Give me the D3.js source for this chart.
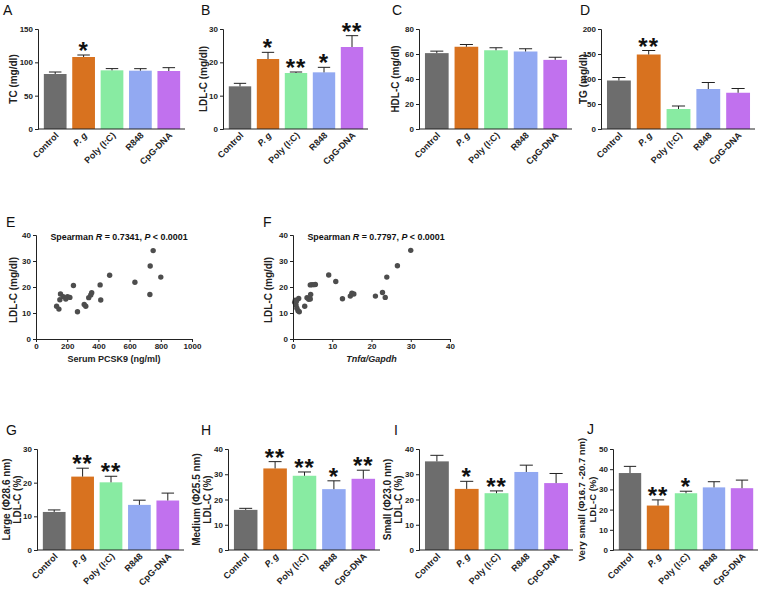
<!DOCTYPE html>
<html><head><meta charset="utf-8">
<script src="https://cdn.jsdelivr.net/npm/d3@7"></script>
<style>
html,body{margin:0;padding:0;background:#fff;}
text{font-family:"Liberation Sans",Arial,sans-serif;}
</style></head>
<body>
<svg id="chart" width="767" height="594"></svg>
<script>
// ---------------- DATA ----------------
const groups = ["Control", "P. g", "Poly (I:C)", "R848", "CpG-DNA"];
const groupColors = ["#6d6d6d", "#d8721f", "#88eba2", "#92a9f2", "#c171ee"];

const tcMean = [82.5, 108, 88, 87.5, 87];
const tcErr = [3, 3, 2.6, 3, 5];
const tcSig = ["", "*", "", "", ""];

const ldlMean = [12.8, 21, 16.8, 17, 24.6];
const ldlErr = [0.9, 2, 0.3, 1.5, 3.4];
const ldlSig = ["", "*", "**", "*", "**"];

const hdlMean = [60.7, 65.8, 63, 62, 55.3];
const hdlErr = [1.6, 1.8, 2, 2.2, 2.1];
const hdlSig = ["", "", "", "", ""];

const tgMean = [97, 149, 40, 80, 72.5];
const tgErr = [6, 8, 6, 13, 8.5];
const tgSig = ["", "**", "", "", ""];

const largeMean = [11.3, 21.8, 20.1, 13.4, 14.7];
const largeErr = [0.6, 2.5, 1.8, 1.4, 2.2];
const largeSig = ["", "**", "**", "", ""];

const mediumMean = [15.9, 32.3, 29.4, 24.1, 28.2];
const mediumErr = [0.6, 2.7, 1.5, 3.3, 3.4];
const mediumSig = ["", "**", "**", "*", "**"];

const smallMean = [35.1, 24.2, 22.5, 30.9, 26.5];
const smallErr = [2.4, 3, 0.9, 2.7, 3.8];
const smallSig = ["", "*", "**", "", ""];

const vsmallMean = [38.1, 22, 28.1, 31, 30.6];
const vsmallErr = [3.3, 2.8, 1, 2.8, 4];
const vsmallSig = ["", "**", "*", "", ""];

// scatter E: serum PCSK9 vs LDL-C
const pcsk9 = [132, 147, 153, 157, 174, 191, 202, 217, 240, 266, 309, 319, 338, 351, 357, 411, 415, 472, 634, 730, 732, 751, 800];
const ldlE = [12.6, 11.5, 15.1, 17.3, 16.3, 15.4, 16.3, 16.0, 20.6, 10.5, 13.3, 12.6, 15.9, 16.9, 17.8, 20.8, 15.0, 24.5, 21.8, 17.1, 28.1, 34.0, 23.8];

// scatter F: Tnfa/Gapdh vs LDL-C
const tnfa = [0.43, 0.6, 0.77, 1.0, 1.28, 1.45, 1.6, 0.9, 2.98, 3.57, 4.0, 4.4, 4.5, 4.4, 4.85, 5.4, 5.7, 9.1, 10.9, 12.6, 14.6, 15.0, 15.5, 21.0, 22.8, 23.5, 23.9, 26.6, 30.0];
const ldlF = [14.1, 14.9, 13.1, 11.8, 10.9, 15.6, 10.5, 14.6, 12.6, 15.9, 15.3, 15.4, 17.1, 20.8, 20.9, 20.9, 21.0, 24.6, 22.1, 15.5, 16.5, 17.6, 17.3, 16.5, 17.9, 16.0, 23.8, 28.2, 34.1];

// ---------------- DRAW ----------------
const svg = d3.select("#chart");

function letter(t, x, y) {
  svg.append("text").attr("x", x).attr("y", y).attr("font-size", 14).attr("fill", "#111").text(t);
}

function barPanel(cfg) {
  const g = svg.append("g");
  const x = d3.scaleBand().domain(groups).range([cfg.left + 3, cfg.right - 2]).paddingInner(0.2).paddingOuter(0.1);
  const y = d3.scaleLinear().domain([0, cfg.yMax]).range([cfg.bottom, cfg.top]);
  const data = groups.map((k, i) => ({k, m: cfg.mean[i], e: cfg.err[i], s: cfg.sig[i], c: groupColors[i]}));

  g.selectAll("rect.bar").data(data).join("rect")
    .attr("x", d => x(d.k)).attr("width", x.bandwidth())
    .attr("y", d => y(d.m)).attr("height", d => y(0) - y(d.m))
    .attr("fill", d => d.c);

  const cw = x.bandwidth() * 0.55;
  g.selectAll("line.eb").data(data).join("line")
    .attr("x1", d => x(d.k) + x.bandwidth() / 2).attr("x2", d => x(d.k) + x.bandwidth() / 2)
    .attr("y1", d => y(d.m)).attr("y2", d => y(d.m + d.e))
    .attr("stroke", "#222").attr("stroke-width", 1);
  g.selectAll("line.cap").data(data).join("line")
    .attr("x1", d => x(d.k) + x.bandwidth() / 2 - cw / 2).attr("x2", d => x(d.k) + x.bandwidth() / 2 + cw / 2)
    .attr("y1", d => y(d.m + d.e)).attr("y2", d => y(d.m + d.e))
    .attr("stroke", "#222").attr("stroke-width", 1);

  g.selectAll("text.sig").data(data.filter(d => d.s)).join("text")
    .attr("x", d => x(d.k) + x.bandwidth() / 2).attr("y", d => y(d.m + d.e) + 4)
    .attr("text-anchor", "middle").attr("font-size", 24).attr("font-weight", "bold")
    .attr("letter-spacing", 1).attr("fill", "#111").text(d => d.s);

  // y axis
  const ya = g.append("g").attr("transform", `translate(${cfg.left},0)`)
    .call(d3.axisLeft(y).tickValues(d3.range(0, cfg.yMax + 0.001, cfg.yStep)).tickSize(3).tickPadding(2));
  ya.select(".domain").attr("stroke", "#222");
  ya.selectAll(".tick line").attr("stroke", "#222");
  ya.selectAll(".tick text").attr("font-size", 8).attr("font-weight", "bold").attr("fill", "#222").attr("font-family", "Liberation Sans, Arial");

  // x axis line
  g.append("line").attr("x1", cfg.left).attr("x2", cfg.right).attr("y1", cfg.bottom).attr("y2", cfg.bottom)
    .attr("stroke", "#222").attr("stroke-width", 1);

  // x labels
  g.selectAll("text.xl").data(data).join("text")
    .attr("transform", d => `translate(${x(d.k) + x.bandwidth() / 2 + 4},${cfg.bottom + 7}) rotate(-45)`)
    .attr("text-anchor", "end").attr("font-size", 9).attr("font-weight", "bold").attr("fill", "#222")
    .attr("font-style", d => d.k === "P. g" ? "italic" : "normal")
    .text(d => d.k);

  // y label
  const cy = (cfg.top + cfg.bottom) / 2;
  cfg.ylabel.forEach((line, i) => {
    const lx = cfg.ylabelX + i * 11;
    g.append("text").attr("transform", `translate(${lx},${cy}) rotate(-90)`)
      .attr("text-anchor", "middle").attr("font-size", cfg.ylabelSize || 10).attr("font-weight", "bold").attr("fill", "#222")
      .text(line);
  });
}

function scatterPanel(cfg) {
  const g = svg.append("g");
  const x = d3.scaleLinear().domain([0, cfg.xMax]).range([cfg.left, cfg.right]);
  const y = d3.scaleLinear().domain([0, 40]).range([cfg.bottom, cfg.top]);
  const pts = cfg.xs.map((v, i) => ({x: v, y: cfg.ys[i]}));
  g.selectAll("circle").data(pts).join("circle")
    .attr("cx", d => x(d.x)).attr("cy", d => y(d.y)).attr("r", 2.7).attr("fill", "#4d4d4d");

  const ya = g.append("g").attr("transform", `translate(${cfg.left},0)`)
    .call(d3.axisLeft(y).tickValues([0, 10, 20, 30, 40]).tickSize(3).tickPadding(2));
  const xa = g.append("g").attr("transform", `translate(0,${cfg.bottom})`)
    .call(d3.axisBottom(x).tickValues(d3.range(0, cfg.xMax + 0.001, cfg.xStep)).tickFormat(d3.format("d")).tickSize(3).tickPadding(1));
  [ya, xa].forEach(a => {
    a.select(".domain").attr("stroke", "#222");
    a.selectAll(".tick line").attr("stroke", "#222");
    a.selectAll(".tick text").attr("font-size", 8).attr("font-weight", "bold").attr("fill", "#222").attr("font-family", "Liberation Sans, Arial");
  });

  const t = g.append("text").attr("x", cfg.titleX).attr("y", cfg.top + 5).attr("text-anchor", "middle")
    .attr("font-size", 8.9).attr("font-weight", "bold").attr("fill", "#111");
  t.append("tspan").text("Spearman ");
  t.append("tspan").attr("font-style", "italic").text("R");
  t.append("tspan").text(" = " + cfg.r + ", ");
  t.append("tspan").attr("font-style", "italic").text("P");
  t.append("tspan").text(" < 0.0001");

  const xl = g.append("text").attr("x", (cfg.left + cfg.right) / 2).attr("y", cfg.bottom + 23).attr("text-anchor", "middle")
    .attr("font-size", 9).attr("font-weight", "bold").attr("fill", "#222");
  cfg.xlabel.forEach(p => xl.append("tspan").attr("font-style", p.i ? "italic" : "normal").text(p.t));

  g.append("text").attr("transform", `translate(${cfg.ylabelX},${(cfg.top + cfg.bottom) / 2 + 3}) rotate(-90)`)
    .attr("text-anchor", "middle").attr("font-size", 10).attr("font-weight", "bold").attr("fill", "#222")
    .text("LDL-C (mg/dl)");
}

// top row
barPanel({left: 38, right: 185, top: 29, bottom: 129, yMax: 150, yStep: 50, mean: tcMean, err: tcErr, sig: tcSig, ylabel: ["TC (mg/dl)"], ylabelX: 17});
barPanel({left: 223, right: 368, top: 29, bottom: 129, yMax: 30, yStep: 10, mean: ldlMean, err: ldlErr, sig: ldlSig, ylabel: ["LDL-C (mg/dl)"], ylabelX: 207});
barPanel({left: 419, right: 572, top: 29, bottom: 129, yMax: 80, yStep: 20, mean: hdlMean, err: hdlErr, sig: hdlSig, ylabel: ["HDL-C (mg/dl)"], ylabelX: 399});
barPanel({left: 601, right: 755, top: 29, bottom: 129, yMax: 200, yStep: 50, mean: tgMean, err: tgErr, sig: tgSig, ylabel: ["TG (mg/dl)"], ylabelX: 587});
letter("A", 3, 15); letter("B", 201, 15); letter("C", 392, 15); letter("D", 580, 15);

// middle row
scatterPanel({left: 36, right: 192, top: 235, bottom: 339, xMax: 1000, xStep: 200, xs: pcsk9, ys: ldlE, r: "0.7341", titleX: 119,
  xlabel: [{t: "Serum PCSK9 (ng/ml)"}], ylabelX: 17});
scatterPanel({left: 293, right: 450, top: 235, bottom: 339, xMax: 40, xStep: 10, xs: tnfa, ys: ldlF, r: "0.7797", titleX: 376,
  xlabel: [{t: "Tnfα/Gapdh", i: true}], ylabelX: 272});
letter("E", 6, 227); letter("F", 263, 227);

// bottom row
barPanel({left: 37, right: 184, top: 449, bottom: 550, yMax: 30, yStep: 10, mean: largeMean, err: largeErr, sig: largeSig, ylabel: ["Large (Φ28.6 nm)", "LDL-C (%)"], ylabelX: 10});
barPanel({left: 228, right: 380, top: 449, bottom: 550, yMax: 40, yStep: 10, mean: mediumMean, err: mediumErr, sig: mediumSig, ylabel: ["Medium (Φ25.5 nm)", "LDL-C (%)"], ylabelX: 200});
barPanel({left: 419, right: 573, top: 449, bottom: 550, yMax: 40, yStep: 10, mean: smallMean, err: smallErr, sig: smallSig, ylabel: ["Small (Φ23.0 nm)", "LDL-C (%)"], ylabelX: 391});
barPanel({left: 613, right: 758, top: 449, bottom: 550, yMax: 50, yStep: 10, mean: vsmallMean, err: vsmallErr, sig: vsmallSig, ylabel: ["Very small (Φ16.7 -20.7 nm)", "LDL-C (%)"], ylabelX: 585, ylabelSize: 9.5});
letter("G", 6, 435); letter("H", 201, 435); letter("I", 394, 435); letter("J", 587, 434);
</script>
</body></html>
